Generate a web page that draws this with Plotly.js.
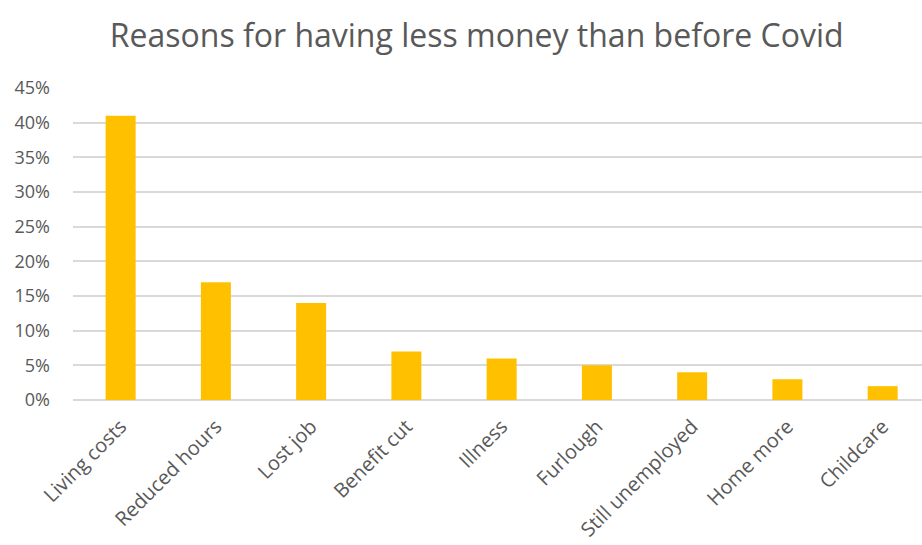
<!DOCTYPE html>
<html><head><meta charset="utf-8">
<script src="https://cdn.plot.ly/plotly-3.0.1.min.js"></script>
<style>html,body{margin:0;padding:0;background:#fff}#chart{width:922px;height:545px}</style>
</head><body><div id="chart"></div>
<script>
const categories = ["Living costs","Reduced hours","Lost job","Benefit cut","Illness","Furlough","Still unemployed","Home more","Childcare"];
const values = [0.41,0.17,0.14,0.07,0.06,0.05,0.04,0.03,0.02];
const yTicks = [0,0.05,0.10,0.15,0.20,0.25,0.30,0.35,0.40,0.45];
const yTickLabels = ["0%","5%","10%","15%","20%","25%","30%","35%","40%","45%"];

const fontFam = "Open Sans, Liberation Sans, sans-serif";
Plotly.newPlot("chart", [{
  type: "bar", x: categories, y: values,
  marker: {color: "#FFC000"}, hoverinfo: "none"
}], {
  width: 922, height: 545,
  margin: {l: 73, r: 0, t: 88, b: 145},
  paper_bgcolor: "#fff", plot_bgcolor: "#fff",
  bargap: 0.685,
  title: {text: "Reasons for having less money than before Covid", x: 0.517, xanchor: "center", y: 0.935, yanchor: "middle",
          font: {family: fontFam, size: 32, color: "#595959"}},
  xaxis: {range: [-0.5, 8.413], tickangle: -45, tickfont: {family: fontFam, size: 20, color: "#595959"},
          showgrid: false, showline: false, ticks: "", fixedrange: true, ticklabelstandoff: 10},
  yaxis: {range: [0, 0.45], tickvals: yTicks, ticktext: yTickLabels,
          tickfont: {family: fontFam, size: 18, color: "#595959"},
          gridcolor: "#D9D9D9", gridwidth: 2, zeroline: true, zerolinecolor: "#D9D9D9", zerolinewidth: 2,
          showline: false, ticks: "", ticklen: 0, fixedrange: true, ticklabelstandoff: 22},
  showlegend: false
}, {displayModeBar: false, staticPlot: true});
</script></body></html>
